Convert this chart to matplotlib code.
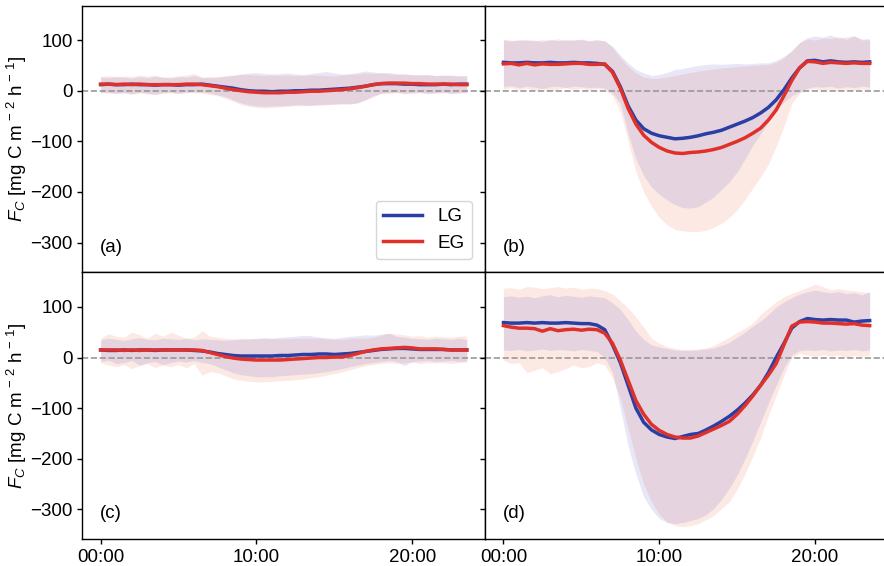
import numpy as np
import matplotlib
matplotlib.use("Agg")
import matplotlib.pyplot as plt

plt.rcParams["font.family"] = ["Liberation Sans", "DejaVu Sans"]
plt.rcParams["mathtext.fontset"] = "custom"
plt.rcParams["mathtext.rm"] = "Liberation Sans"
plt.rcParams["mathtext.it"] = "Liberation Sans:italic"

# Half-hourly time of day (hours)
hours = np.arange(48) * 0.5
xticks = [0, 10, 20]
xticklabels = ["00:00", "10:00", "20:00"]
yticks = [-300, -200, -100, 0, 100]
panel_labels = ["(a)", "(b)", "(c)", "(d)"]
groups = ["LG", "EG"]

# ---- Panel (a) ----
a_lg_mean = [12, 13, 12, 12, 13, 12, 12, 11, 12, 12, 11, 12, 12, 13,
             11, 9, 7, 5, 2, 0, -1, -1, -2, -1,
             -1, 0, 0, 1, 1, 2, 3, 4, 5, 7,
             9, 12, 14, 14, 14, 13, 13, 12, 12, 12,
             13, 12, 13, 13]
a_eg_mean = [13, 13, 12, 13, 12, 13, 12, 12, 12, 12, 12, 13, 13, 12,
             10, 8, 5, 2, 0, -2, -3, -4, -4, -4,
             -3, -3, -2, -1, -1, 0, 1, 2, 4, 6,
             9, 12, 14, 15, 15, 15, 14, 14, 13, 13,
             13, 13, 12, 12]
a_lg_hi = [27, 26, 28, 27, 25, 28, 26, 29, 27, 25, 28, 27, 30, 26,
           26, 27, 28, 30, 33, 35, 36, 34, 33, 34,
           35, 33, 32, 34, 36, 38, 35, 33, 34, 36,
           39, 37, 35, 36, 34, 33, 32, 31, 32, 30,
           31, 30, 29, 30]
a_eg_hi = [28, 30, 27, 29, 28, 31, 29, 30, 26, 28, 29, 31, 34, 27,
           28, 27, 30, 31, 32, 32, 31, 30, 31, 30,
           31, 30, 30, 31, 31, 30, 29, 31, 32, 33,
           35, 34, 36, 33, 32, 33, 31, 32, 31, 30,
           30, 31, 30, 29]
a_lg_lo = [-4, -3, -5, -4, -6, -3, -5, -7, -4, -3, -5, -4, -2, -3,
           -5, -8, -12, -18, -24, -28, -30, -31, -30, -30,
           -29, -28, -28, -29, -27, -27, -26, -25, -26, -24,
           -18, -10, -5, -4, -3, -5, -4, -3, -5, -4,
           -3, -5, -4, -3]
a_eg_lo = [-3, -5, -6, -4, -7, -5, -6, -8, -5, -4, -6, -3, -4, -5,
           -7, -10, -15, -21, -27, -31, -33, -34, -33, -32,
           -31, -30, -30, -29, -29, -28, -27, -27, -26, -24,
           -18, -12, -6, -5, -4, -6, -5, -4, -6, -5,
           -4, -6, -5, -4]

# ---- Panel (b) ----
b_lg_mean = [56, 55, 55, 56, 55, 55, 56, 55, 55, 56, 55, 55, 54, 52,
             38, 8, -30, -58, -75, -84, -89, -92, -95, -94,
             -92, -89, -85, -82, -78, -72, -66, -60, -53, -44,
             -33, -18, 2, 25, 45, 59, 60, 57, 59, 57,
             56, 57, 56, 57]
b_eg_mean = [53, 54, 51, 54, 51, 53, 52, 52, 53, 54, 54, 52, 52, 53,
             36, 5, -35, -66, -88, -102, -112, -119, -123, -124,
             -122, -121, -119, -116, -112, -106, -100, -93, -84, -74,
             -58, -38, -10, 20, 45, 58, 57, 54, 56, 55,
             54, 55, 54, 54]
b_lg_hi = [100, 98, 101, 99, 100, 97, 101, 99, 101, 100, 102, 99, 101, 98,
           88, 70, 55, 42, 35, 30, 32, 36, 42, 44,
           47, 50, 52, 53, 52, 53, 54, 53, 54, 55,
           55, 60, 68, 78, 95, 105, 108, 106, 110, 104,
           106, 108, 102, 103]
b_eg_hi = [102, 100, 99, 102, 98, 101, 100, 103, 99, 100, 101, 98, 100, 99,
           85, 65, 48, 35, 27, 24, 25, 27, 30, 33,
           36, 39, 41, 43, 45, 46, 48, 49, 50, 51,
           52, 56, 65, 80, 95, 102, 100, 104, 103, 107,
           101, 109, 100, 101]
b_lg_lo = [8, 10, 6, 9, 7, 4, 8, 9, 6, 9, 8, 6, 7, 5,
           -5, -25, -85, -135, -168, -190, -205, -216, -225, -231,
           -232, -229, -220, -210, -195, -180, -160, -135, -108, -85,
           -62, -40, -22, -10, -2, 5, 8, 7, 9, 5,
           8, 6, 9, 7]
b_eg_lo = [3, 6, 2, 5, 0, 4, -2, 3, 6, 2, 5, 1, 4, 2,
           -10, -40, -100, -160, -200, -228, -250, -265, -274, -277,
           -278, -278, -276, -270, -262, -250, -235, -215, -192, -170,
           -145, -110, -70, -25, -5, 2, 4, 0, 3, -2,
           2, 0, 4, 1]

# ---- Panel (c) ----
c_lg_mean = [15, 14, 14, 15, 14, 15, 15, 14, 15, 15, 15, 15, 14, 13,
             11, 8, 6, 4, 3, 3, 3, 3, 3, 4,
             4, 5, 6, 6, 7, 7, 6, 7, 8, 10,
             12, 14, 16, 17, 18, 18, 17, 16, 16, 16,
             16, 15, 15, 15]
c_eg_mean = [15, 15, 15, 14, 15, 14, 15, 15, 15, 15, 15, 15, 15, 14,
             10, 6, 2, -1, -3, -4, -5, -5, -5, -5,
             -4, -3, -2, -1, 0, 0, 1, 1, 4, 8,
             12, 15, 17, 18, 19, 20, 19, 17, 17, 17,
             16, 15, 15, 15]
c_lg_hi = [35, 38, 36, 34, 37, 39, 36, 35, 38, 37, 36, 38, 35, 37,
           36, 35, 34, 35, 36, 37, 38, 39, 38, 40,
           41, 42, 44, 43, 40, 39, 38, 40, 42, 43,
           45, 44, 46, 48, 42, 40, 38, 37, 36, 38,
           37, 36, 38, 35]
c_eg_hi = [38, 47, 42, 40, 50, 45, 38, 48, 42, 50, 44, 38, 40, 53,
           42, 40, 38, 37, 38, 37, 37, 38, 38, 37,
           37, 38, 38, 38, 39, 37, 36, 36, 38, 38,
           38, 40, 44, 48, 46, 45, 42, 43, 40, 42,
           41, 40, 42, 43]
c_lg_lo = [-8, -5, -12, -10, -6, -15, -10, -8, -14, -10, -7, -9, -6, -10,
           -12, -18, -24, -30, -34, -36, -38, -38, -38, -36,
           -35, -34, -33, -32, -30, -28, -25, -22, -18, -15,
           -12, -10, -8, -6, -8, -16, -8, -7, -6, -8,
           -7, -6, -8, -7]
c_eg_lo = [-10, -15, -18, -14, -22, -16, -12, -20, -15, -18, -14, -20, -12, -35,
           -28, -30, -36, -42, -45, -47, -48, -48, -47, -46,
           -45, -44, -42, -40, -38, -35, -32, -28, -24, -20,
           -16, -14, -12, -10, -12, -10, -9, -12, -10, -11,
           -10, -12, -10, -9]

# ---- Panel (d) ----
d_lg_mean = [69, 68, 68, 69, 68, 69, 68, 68, 69, 68, 67, 67,
             64, 55, 25, -10, -55, -100, -128, -143, -152, -157,
             -160, -156, -152, -150, -143, -135, -126, -116, -104, -90,
             -74, -55, -30, 0, 28, 58, 71, 77, 75, 74,
             75, 74, 74, 70, 72, 73]
d_eg_mean = [63, 60, 58, 58, 57, 52, 57, 53, 55, 56, 54, 56,
             55, 48, 28, -5, -45, -85, -112, -132, -144, -152,
             -157, -159, -159, -155, -148, -141, -134, -126, -112, -95,
             -76, -55, -35, -12, 25, 62, 70, 71, 70, 68,
             68, 67, 66, 67, 64, 63]
d_lg_hi = [120, 122, 119, 121, 118, 122, 124, 120, 123, 121, 119, 122, 120,
           118, 108, 95, 75, 52, 36, 25, 21, 18, 15,
           14, 14, 15, 17, 19, 24, 30, 40, 50, 62,
           72, 85, 100, 110, 118, 125, 130, 133, 130, 128,
           130, 126, 128, 124, 130]
d_eg_hi = [137, 138, 135, 140, 139, 136, 138, 140, 137, 139, 135, 137, 136,
           132, 125, 112, 98, 80, 60, 38, 28, 22, 18,
           16, 16, 17, 19, 24, 32, 40, 50, 58, 68,
           85, 98, 110, 120, 127, 132, 138, 145, 140, 134,
           136, 133, 132, 130, 128]
d_lg_lo = [15, 14, 16, 13, 15, 17, 14, 16, 15, 13, 16, 14, 12,
           0, -30, -100, -175, -230, -275, -300, -318, -326, -328,
           -326, -322, -318, -310, -298, -280, -258, -232, -200, -165,
           -128, -90, -55, -20, 5, 14, 15, 14, 16, 13,
           15, 14, 16, 13, 15]
d_eg_lo = [-5, -12, -10, -30, -25, -20, -32, -28, -22, -15, -20, -18, -10,
           -15, -40, -80, -140, -200, -250, -285, -310, -325, -332,
           -334, -332, -328, -320, -312, -298, -285, -260, -230, -195,
           -158, -115, -75, -35, 0, 8, 5, 2, 6, 3,
           5, 0, 4, 2, 5]

panels = [
    (a_lg_mean, a_lg_lo, a_lg_hi, a_eg_mean, a_eg_lo, a_eg_hi),
    (b_lg_mean, b_lg_lo, b_lg_hi, b_eg_mean, b_eg_lo, b_eg_hi),
    (c_lg_mean, c_lg_lo, c_lg_hi, c_eg_mean, c_eg_lo, c_eg_hi),
    (d_lg_mean, d_lg_lo, d_lg_hi, d_eg_mean, d_eg_lo, d_eg_hi),
]

lg_color = "#2b3ea3"
eg_color = "#e0302a"
lg_fill = "#3f3fc5"
eg_fill = "#f26c44"

fig, axes = plt.subplots(2, 2, figsize=(8.84, 5.66), dpi=100,
                         sharex=True, sharey=True)
fig.subplots_adjust(left=0.0931, right=1.0045, bottom=0.0472, top=0.990,
                    wspace=0, hspace=0)

for ax, data, lab in zip(axes.flat, panels, panel_labels):
    lg_m, lg_lo, lg_hi, eg_m, eg_lo, eg_hi = data
    ax.fill_between(hours, eg_lo, eg_hi, color=eg_fill, alpha=0.15, lw=0)
    ax.fill_between(hours, lg_lo, lg_hi, color=lg_fill, alpha=0.12, lw=0)
    ax.axhline(0, color="#999999", ls="--", lw=1.2, zorder=1)
    ax.plot(hours, lg_m, color=lg_color, lw=2.5, label=groups[0], zorder=3)
    ax.plot(hours, eg_m, color=eg_color, lw=2.5, label=groups[1], zorder=4)
    ax.text(0.044, 0.095, lab, transform=ax.transAxes, fontsize=13.5,
            ha="left", va="center")
    ax.tick_params(axis="both", labelsize=13.5, length=3.5, width=1,
                   direction="out")
    for s in ax.spines.values():
        s.set_linewidth(1.0)

ax0 = axes[0, 0]
ax0.set_ylim(-359, 168)
ax0.set_yticks(yticks)
ax0.set_xticks(xticks)
ax0.set_xticklabels(xticklabels)
ax0.set_xlim(-1.175, 24.675)

for ax in axes[0]:
    ax.tick_params(axis="x", length=0)

for ax in axes[:, 0]:
    ax.set_ylabel(r"$F_C$ [mg C m$^{\,-\,2}$ h$^{\,-\,1}$]", fontsize=13.5,
                  labelpad=1)

ax0.legend(loc="lower right", fontsize=13.5, handlelength=2.1,
           borderaxespad=0.7)

fig.savefig("out.png", dpi=100)
